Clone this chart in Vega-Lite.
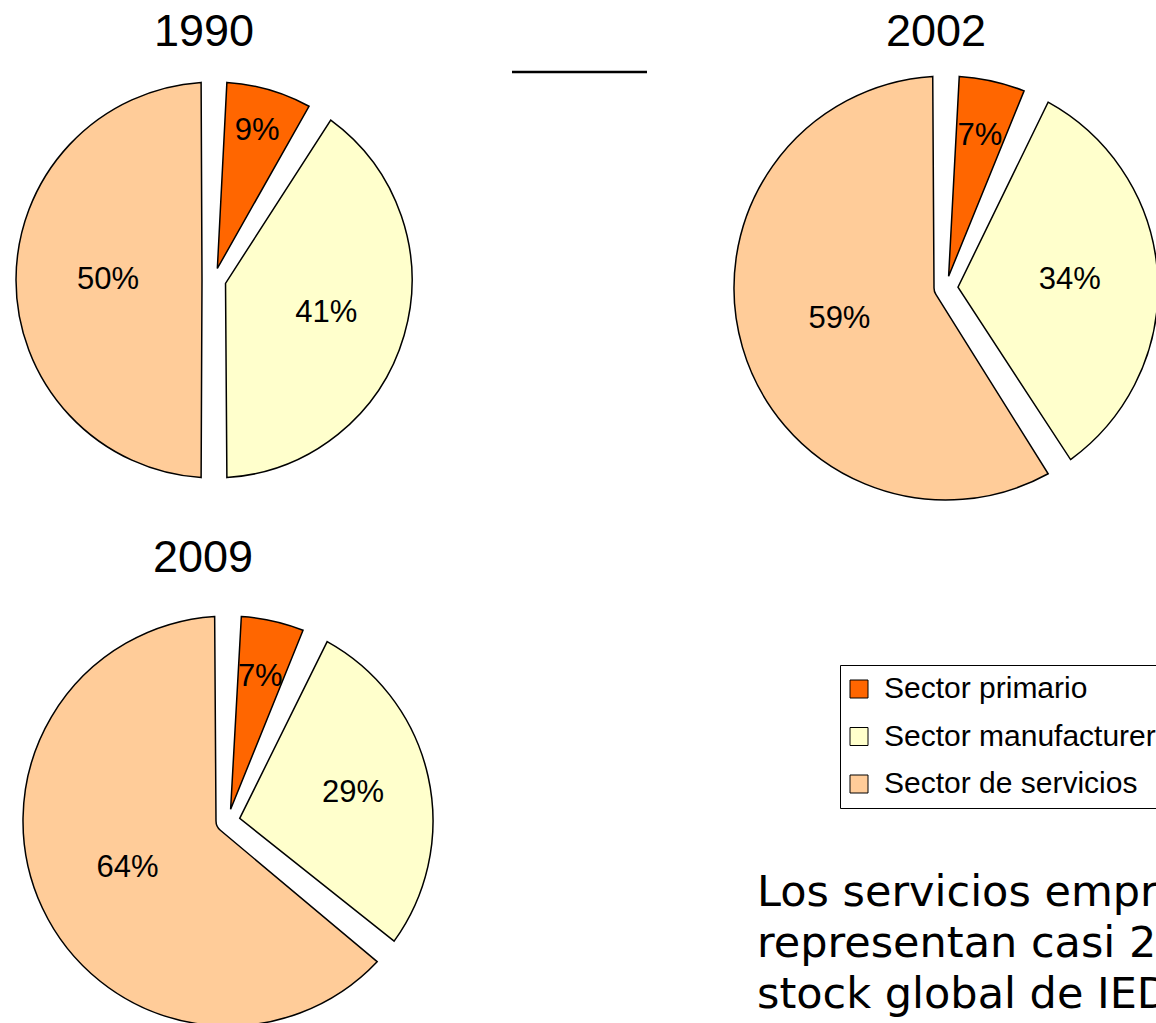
{
  "$schema": "https://vega.github.io/schema/vega-lite/v6.json",
  "padding": {"left": 0, "top": 10, "right": 0, "bottom": 0},
  "background": "white",
  "config": {
    "view": {"stroke": null},
    "font": "Liberation Sans",
    "title": {"font": "Liberation Sans", "fontSize": 45, "fontWeight": "normal", "color": "black", "offset": 5, "anchor": "middle"},
    "legend": {
      "symbolType": "square", "symbolSize": 324, "symbolStrokeColor": "black", "symbolStrokeWidth": 1, "symbolOpacity": 1, "symbolOffset": -5,
      "labelFont": "Liberation Sans", "labelFontSize": 30, "labelColor": "black", "labelOffset": 10, "labelLimit": 600,
      "rowPadding": 17.5, "padding": 9, "strokeColor": "black", "fillColor": "white", "cornerRadius": 0
    }
  },
  "datasets": {
    "pies": [
      {"anio": "1990", "sector": "Sector primario", "orden": 1, "valor": 0.09},
      {"anio": "1990", "sector": "Sector manufacturero", "orden": 2, "valor": 0.41},
      {"anio": "1990", "sector": "Sector de servicios", "orden": 3, "valor": 0.50},
      {"anio": "2002", "sector": "Sector primario", "orden": 1, "valor": 0.07},
      {"anio": "2002", "sector": "Sector manufacturero", "orden": 2, "valor": 0.34},
      {"anio": "2002", "sector": "Sector de servicios", "orden": 3, "valor": 0.59},
      {"anio": "2009", "sector": "Sector primario", "orden": 1, "valor": 0.07},
      {"anio": "2009", "sector": "Sector manufacturero", "orden": 2, "valor": 0.29},
      {"anio": "2009", "sector": "Sector de servicios", "orden": 3, "valor": 0.64}
    ],
    "nota": [
      {"linea": 1, "texto": "Los servicios empresariales"},
      {"linea": 2, "texto": "representan casi 20% del"},
      {"linea": 3, "texto": "stock global de IED"}
    ]
  },
  "spacing": 20,
  "vconcat": [
    {
      "spacing": 82,
      "hconcat": [
        {
          "width": 428, "height": 440,
          "title": {"text": "1990", "dx": -10},
          "data": {"name": "pies"},
          "transform": [{"filter": {"field": "anio", "equal": "1990"}}],
          "encoding": {
            "theta": {"field": "valor", "type": "quantitative", "stack": true},
            "order": {"field": "orden", "type": "quantitative"}
          },
          "layer": [
            {"mark": {"type": "arc", "radius": 198, "innerRadius": 12, "padAngle": 0.13, "stroke": "black", "strokeWidth": 1.5},
             "encoding": {"color": {"field": "sector", "type": "nominal",
               "scale": {"domain": ["Sector primario", "Sector manufacturero", "Sector de servicios"], "range": ["#FF6600", "#FFFFCC", "#FFCC99"]},
               "legend": {"orient": "none", "legendX": 840, "legendY": 605, "title": null}}}},
            {"mark": {"type": "text", "radius": 155, "fontSize": 31, "color": "black"},
             "encoding": {"text": {"condition": {"test": "datum.orden === 1", "field": "valor", "type": "quantitative", "format": ".0%"}, "value": ""}}},
            {"mark": {"type": "text", "radius": 117, "fontSize": 31, "color": "black"},
             "encoding": {"text": {"condition": {"test": "datum.orden === 2", "field": "valor", "type": "quantitative", "format": ".0%"}, "value": ""}}},
            {"mark": {"type": "text", "radius": 106, "fontSize": 31, "color": "black"},
             "encoding": {"text": {"condition": {"test": "datum.orden === 3", "field": "valor", "type": "quantitative", "format": ".0%"}, "value": ""}}}
          ]
        },
        {
          "width": 135, "height": 24,
          "data": {"values": [{}]},
          "mark": {"type": "rule", "color": "black", "strokeWidth": 2.5, "strokeCap": "butt"},
          "encoding": {"y": {"value": 12}}
        },
        {
          "width": 424, "height": 456,
          "title": {"text": "2002", "dx": -10},
          "data": {"name": "pies"},
          "transform": [{"filter": {"field": "anio", "equal": "2002"}}],
          "encoding": {
            "theta": {"field": "valor", "type": "quantitative", "stack": true},
            "order": {"field": "orden", "type": "quantitative"}
          },
          "layer": [
            {"mark": {"type": "arc", "radius": 212, "innerRadius": 12, "padAngle": 0.125, "stroke": "black", "strokeWidth": 1.5},
             "encoding": {"color": {"field": "sector", "type": "nominal",
               "scale": {"domain": ["Sector primario", "Sector manufacturero", "Sector de servicios"], "range": ["#FF6600", "#FFFFCC", "#FFCC99"]},
               "legend": {"orient": "none", "legendX": 840, "legendY": 605, "title": null}}}},
            {"mark": {"type": "text", "radius": 156, "fontSize": 31, "color": "black"},
             "encoding": {"text": {"condition": {"test": "datum.orden === 1", "field": "valor", "type": "quantitative", "format": ".0%"}, "value": ""}}},
            {"mark": {"type": "text", "radius": 124, "fontSize": 31, "color": "black"},
             "encoding": {"text": {"condition": {"test": "datum.orden === 2", "field": "valor", "type": "quantitative", "format": ".0%"}, "value": ""}}},
            {"mark": {"type": "text", "radius": 111, "fontSize": 31, "color": "black"},
             "encoding": {"text": {"condition": {"test": "datum.orden === 3", "field": "valor", "type": "quantitative", "format": ".0%"}, "value": ""}}}
          ]
        }
      ]
    },
    {
      "spacing": 301,
      "hconcat": [
        {
          "width": 456, "height": 410,
          "title": {"text": "2009", "dx": -25, "offset": 32},
          "data": {"name": "pies"},
          "transform": [{"filter": {"field": "anio", "equal": "2009"}}],
          "encoding": {
            "theta": {"field": "valor", "type": "quantitative", "stack": true},
            "order": {"field": "orden", "type": "quantitative"}
          },
          "layer": [
            {"mark": {"type": "arc", "radius": 205, "innerRadius": 12, "padAngle": 0.13, "stroke": "black", "strokeWidth": 1.5},
             "encoding": {"color": {"field": "sector", "type": "nominal",
               "scale": {"domain": ["Sector primario", "Sector manufacturero", "Sector de servicios"], "range": ["#FF6600", "#FFFFCC", "#FFCC99"]},
               "legend": {"orient": "none", "legendX": 840, "legendY": 605, "title": null}}}},
            {"mark": {"type": "text", "radius": 148, "fontSize": 31, "color": "black"},
             "encoding": {"text": {"condition": {"test": "datum.orden === 1", "field": "valor", "type": "quantitative", "format": ".0%"}, "value": ""}}},
            {"mark": {"type": "text", "radius": 128, "fontSize": 31, "color": "black"},
             "encoding": {"text": {"condition": {"test": "datum.orden === 2", "field": "valor", "type": "quantitative", "format": ".0%"}, "value": ""}}},
            {"mark": {"type": "text", "radius": 111, "fontSize": 31, "color": "black"},
             "encoding": {"text": {"condition": {"test": "datum.orden === 3", "field": "valor", "type": "quantitative", "format": ".0%"}, "value": ""}}}
          ]
        },
        {
          "width": 399, "height": 410,
          "data": {"name": "nota"},
          "mark": {"type": "text", "align": "left", "baseline": "alphabetic", "font": "DejaVu Sans", "fontSize": 43, "color": "black", "clip": true},
          "encoding": {
            "x": {"value": 0},
            "y": {"field": "linea", "type": "quantitative", "scale": {"domain": [-4.686, 3.353], "reverse": true, "nice": false, "zero": false}, "axis": null},
            "text": {"field": "texto"}
          }
        }
      ]
    }
  ]
}
